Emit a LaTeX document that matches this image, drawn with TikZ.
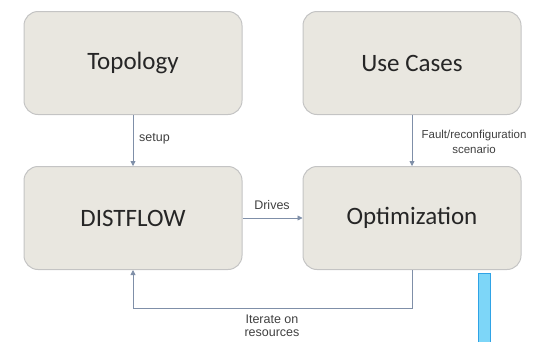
\documentclass[tikz,border=0pt]{standalone}
\usepackage{fontspec}
\setmainfont{Carlito}
\newfontfamily\lblfont{Liberation Sans}
\usetikzlibrary{arrows.meta}
\definecolor{boxfill}{HTML}{E9E7E0}
\definecolor{boxline}{HTML}{C4C4C4}
\definecolor{conn}{HTML}{7F8FA8}
\definecolor{barfill}{HTML}{7DD6F8}
\definecolor{barline}{HTML}{2FA3E6}
\begin{document}
\begin{tikzpicture}[x=1pt,y=-1pt,
  blk/.style={draw=boxline,line width=1pt,fill=boxfill,rounded corners=14pt,
    minimum width=218pt,minimum height=103pt,inner sep=0pt,
    font=\fontsize{25}{29}\selectfont,text=black!85},
  conn/.style={draw=conn,line width=0.8pt,-{Triangle[length=5pt,width=5pt]}},
  lbl/.style={font=\lblfont\fontsize{12.5}{13}\selectfont,text=black!75,align=center,inner sep=0pt}]
\useasboundingbox (0,0) rectangle (537,341);
\node[blk] (topo) at (133,63) {Topology};
\node[blk] (use) at (412,63) {Use Cases};
\node[blk] (dist) at (133,218) {DISTFLOW};
\node[blk] (opt) at (412,218) {Optimization};
\draw[conn] (topo) -- (dist);
\draw[conn] (use) -- (opt);
\draw[conn] (dist) -- (opt);
\coordinate (c1) at (412,308);
\coordinate (c2) at (133,308);
\draw[conn] (opt.south) -- (c1) -- (c2) -- (dist.south);
\node[lbl,anchor=west] (l1) at (139,139) {setup};
\node[lbl,font=\lblfont\fontsize{11.5}{14.5}\selectfont] (l2) at (474,142) {Fault/reconfiguration\\scenario};
\node[lbl] (l3) at (272,205) {Drives};
\node[lbl] (l4) at (272,326) {Iterate on\\resources};
\fill[barfill,draw=barline,line width=0.8pt] (478,273) rectangle (490,345);
\end{tikzpicture}
\end{document}
